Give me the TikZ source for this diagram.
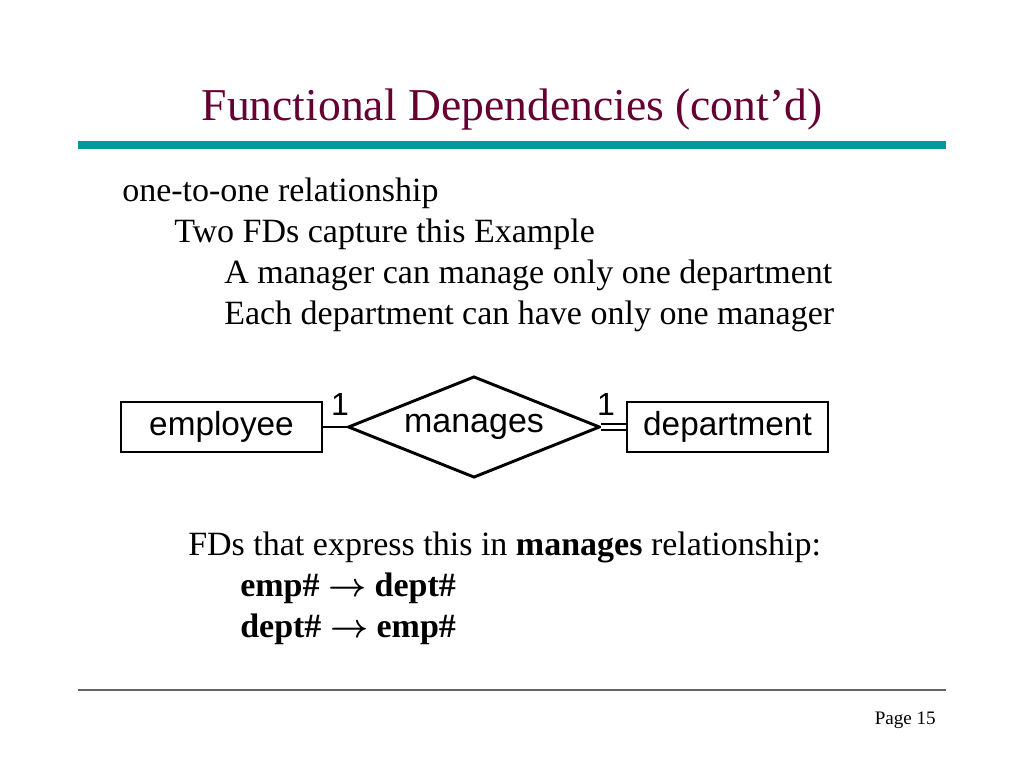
\documentclass[tikz,border=0pt]{standalone}
\usepackage{fontspec}
\setmainfont{Liberation Serif}
\setsansfont{Liberation Sans}
\usepackage{tikz}
\usetikzlibrary{shapes.geometric,positioning}

\definecolor{titlered}{HTML}{660033}
\definecolor{rule}{HTML}{009999}

\tikzset{
	entity/.style={draw,line width=2.2pt,minimum width=150.75pt,minimum height=37.5pt,font=\sffamily\fontsize{25}{28}\selectfont},
	relship/.style={draw,diamond,line width=2.2pt,aspect=2.5,minimum width=189pt,minimum height=76pt,inner sep=0pt,font=\sffamily\fontsize{25.5}{28}\selectfont},
	card/.style={font=\sffamily\fontsize{24}{26}\selectfont},
	txt/.style={anchor=base west,inner sep=0pt,font=\fontsize{25.5}{30}\selectfont}
}

\begin{document}
\begin{tikzpicture}[x=0.75pt,y=-0.75pt]
			\useasboundingbox (0,0) rectangle (1024,768);
			\node[anchor=base,inner sep=0pt,text=titlered,font=\fontsize{34.2}{40}\selectfont] (title) at (512,120) {Functional Dependencies (cont’d)};
			\draw[rule,line width=6pt] (78,145) -- (946,145);
			\node[txt] (l1) at (122,201) {one-to-one relationship};
			\node[txt] (l2) at (174,242) {Two FDs capture this Example};
			\node[txt] (l3) at (224,283) {A manager can manage only one department};
			\node[txt] (l4) at (224,324) {Each department can have only one manager};
			\node[entity] (emp) at (221.5,427) {employee};
			\node[relship] (man) at (474,427) {manages};
			\node[entity] (dept) at (727.5,427) {department};
			\draw[line width=2.2pt] (emp.east) -- (man.west);
			\draw[line width=1.6pt,double,double distance=2.6pt] (man.east) -- (dept.west);
			\node[card] (c1) at (340,404) {1};
			\node[card] (c2) at (606,404) {1};
			\node[txt] (f1) at (188,555) {FDs that express this in \textbf{manages} relationship:};
			\node[txt] (f2) at (240,596) {\textbf{emp\# {\boldmath$\rightarrow$} dept\#}};
			\node[txt] (f3) at (240,637) {\textbf{dept\# {\boldmath$\rightarrow$} emp\#}};
			\draw[gray!80!black,line width=0.9pt] (78,690) -- (946,690);
			\node[anchor=base east,inner sep=0pt,font=\fontsize{14.3}{16}\selectfont] (page) at (936,724) {Page 15};
		    \end{tikzpicture}
\end{document}
